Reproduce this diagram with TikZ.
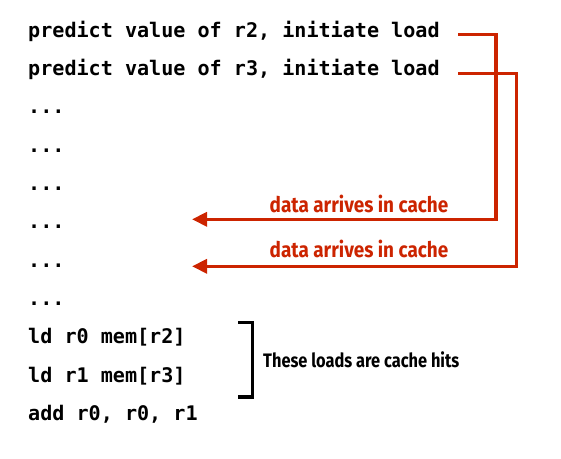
\documentclass[tikz,border=0pt]{standalone}
\usepackage{fontspec}
\setmonofont{DejaVu Sans Mono}
\newfontfamily\labelfont{Fira Sans}
\usetikzlibrary{arrows.meta}
\definecolor{arrred}{RGB}{204,36,0}
\newcommand{\cond}[2][0.88]{\scalebox{#1}[1]{#2}}
\tikzset{
  code/.style={anchor=base west, inner sep=0pt, font=\ttfamily\bfseries\fontsize{20.1}{24}\selectfont},
  redlbl/.style={inner sep=0pt, text=arrred, font=\labelfont\bfseries\fontsize{21.5}{24}\selectfont},
  blklbl/.style={inner sep=0pt, anchor=west, font=\labelfont\bfseries\fontsize{19.5}{22}\selectfont},
  redline/.style={draw=arrred, line width=3.3pt},
  redarrow/.style={redline, -{Triangle[length=15pt,width=14pt]}},
}
\begin{document}
\begin{tikzpicture}[x=1pt,y=-1pt]
\useasboundingbox (0,0) rectangle (561,458);
\node[code] (l1) at (28,37.3) {predict value of r2, initiate load};
\node[code] (l2) at (28,75.6) {predict value of r3, initiate load};
\node[code] (l3) at (28,113.9) {...};
\node[code] (l4) at (28,152.2) {...};
\node[code] (l5) at (28,190.5) {...};
\node[code] (l6) at (28,228.8) {...};
\node[code] (l7) at (28,267.1) {...};
\node[code] (l8) at (28,305.4) {...};
\node[code] (l9) at (28,343.7) {ld r0 mem[r2]};
\node[code] (l10) at (28,382) {ld r1 mem[r3]};
\node[code] (l11) at (28,420.3) {add r0, r0, r1};
% red connectors
\coordinate (s1) at (458,34.7);
\coordinate (c1) at (496,219.3);
\coordinate (t1) at (192,219.3);
\coordinate (s2) at (458,73.3);
\coordinate (c2) at (516.5,266.3);
\coordinate (t2) at (192,266.3);
\draw[redarrow] (s1) -| (c1) -- (t1);
\draw[redarrow] (s2) -| (c2) -- (t2);
\node[redlbl] (d1) at (359,203.5) {\cond{data arrives in cache}};
\node[redlbl] (d2) at (359,249) {\cond{data arrives in cache}};
% bracket
\coordinate (b1) at (238,322.7);
\coordinate (b2) at (252.5,322.7);
\coordinate (b3) at (252.5,397);
\coordinate (b4) at (238,397);
\draw[line width=3.2pt] (b1) -- (b2) -- (b3) -- (b4);
\node[blklbl] (hits) at (263,360) {\cond[0.84]{These loads are cache hits}};
\end{tikzpicture}
\end{document}
